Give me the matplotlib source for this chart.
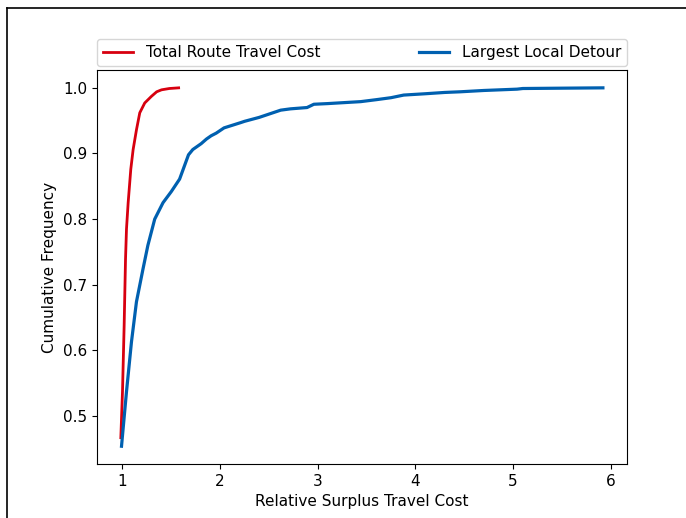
import matplotlib
matplotlib.use("Agg")
import matplotlib.pyplot as plt
from matplotlib.lines import Line2D

# Total Route Travel Cost (cumulative distribution)
total_x = [0.983, 1.0, 1.017, 1.031, 1.041, 1.058, 1.085, 1.109, 1.143, 1.177, 1.228, 1.296, 1.35, 1.40, 1.48, 1.575]
total_f = [0.467, 0.537, 0.638, 0.739, 0.785, 0.825, 0.876, 0.906, 0.936, 0.962, 0.977, 0.987, 0.994, 0.997, 0.999, 1.0]

# Largest Local Detour (cumulative distribution)
detour_x = [0.99, 1.041, 1.092, 1.143, 1.21, 1.26, 1.33, 1.415, 1.5, 1.585, 1.676, 1.72, 1.806, 1.86, 1.908, 1.96, 2.04,
            2.21, 2.25, 2.40, 2.52, 2.62, 2.72, 2.89, 2.96, 3.10, 3.44, 3.60, 3.75, 3.88, 4.10, 4.30, 4.46, 4.70, 5.04, 5.10, 5.50, 5.92]
detour_f = [0.454, 0.537, 0.613, 0.674, 0.724, 0.76, 0.80, 0.825, 0.842, 0.861, 0.898, 0.906, 0.915, 0.922, 0.927, 0.931, 0.939,
            0.947, 0.949, 0.955, 0.961, 0.966, 0.968, 0.970, 0.975, 0.976, 0.979, 0.982, 0.985, 0.989, 0.991, 0.993, 0.994, 0.996, 0.998, 0.999, 0.9995, 1.0]

plt.rcParams['font.size'] = 11

fig = plt.figure(figsize=(6.86, 5.18), dpi=100)
ax = fig.add_axes([0.141, 0.104, 0.773, 0.761])

ax.plot(total_x, total_f, color='#d7000f', lw=2, label='Total Route Travel Cost')
ax.plot(detour_x, detour_f, color='#0060b0', lw=2.3, label='Largest Local Detour')

ax.set_xlabel('Relative Surplus Travel Cost')
ax.set_ylabel('Cumulative Frequency')
ax.set_xticks([1, 2, 3, 4, 5, 6])
ax.set_yticks([0.5, 0.6, 0.7, 0.8, 0.9, 1.0])

ax.legend(bbox_to_anchor=(0, 1.01, 1, 0.1), loc='lower left', ncol=2,
          mode='expand', borderaxespad=0., fontsize=11)

# screenshot frame (left and top edges)
fig.add_artist(Line2D([7/686, 7/686], [0, 1 - 7.5/518], transform=fig.transFigure, color='black', lw=1.2))
fig.add_artist(Line2D([7/686, 1], [1 - 7.5/518, 1 - 7.5/518], transform=fig.transFigure, color='black', lw=1.2))

fig.savefig('out.png', dpi=100)
